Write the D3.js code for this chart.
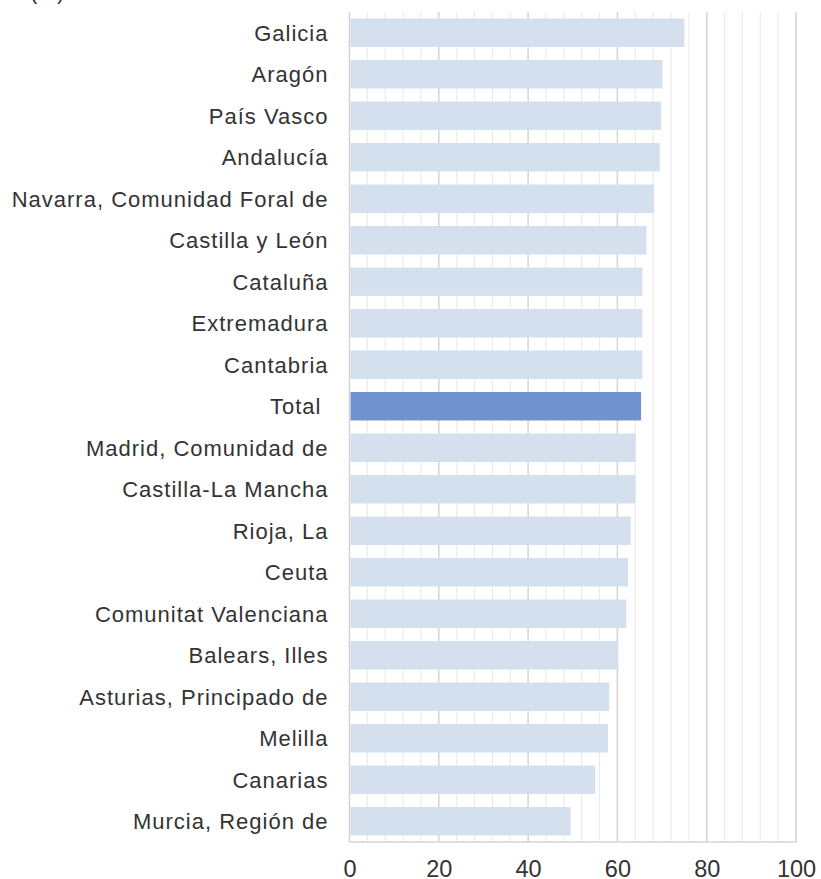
<!DOCTYPE html>
<html>
<head>
<meta charset="utf-8">
<script src="https://cdn.jsdelivr.net/npm/d3@7"></script>
<style>
  body { margin: 0; background: #fff; }
  text { font-family: "Liberation Sans", Arial, sans-serif; fill: #333; }
</style>
</head>
<body>
<div id="chart"></div>
<script>
// data
var regions = ["Galicia", "Aragón", "País Vasco", "Andalucía", "Navarra, Comunidad Foral de",
  "Castilla y León", "Cataluña", "Extremadura", "Cantabria", "Total ",
  "Madrid, Comunidad de", "Castilla-La Mancha", "Rioja, La", "Ceuta", "Comunitat Valenciana",
  "Balears, Illes", "Asturias, Principado de", "Melilla", "Canarias", "Murcia, Región de"]
var values = [75.0, 70.1, 69.8, 69.5, 68.2, 66.5, 65.6, 65.6, 65.6, 65.3,
  64.1, 64.0, 63.0, 62.4, 62.0, 60.2, 58.2, 57.9, 55.0, 49.5]
var xTicks = [0, 20, 40, 60, 80, 100]
var unitLabel = "(%)"

var W = 821, H = 879
var margin = { top: 12, right: 25, bottom: 37, left: 349.5 },
    width = W - margin.left - margin.right,
    height = H - margin.top - margin.bottom

var data = regions.map(function (d, i) { return { name: d, value: values[i] } })

var svg = d3.select("#chart")
    .append("svg")
    .attr("width", W)
    .attr("height", H)

// unit label, sits mostly above the top edge like in the original
svg.append("text")
    .attr("x", 30)
    .attr("y", -1)
    .style("font-size", "22px")
    .text(unitLabel)

var g = svg.append("g")
    .attr("transform", "translate(" + margin.left + "," + margin.top + ")")

var x = d3.scaleLinear().domain([0, 100]).range([0, width])
var y = d3.scaleBand()
    .domain(regions)
    .range([0, height])
    .paddingInner(0.315)
    .paddingOuter(0.1575)

// minor gridlines
g.selectAll(".minor")
    .data(d3.range(0, 101, 4).filter(function (v) { return v % 20 !== 0 }))
    .enter().append("line")
    .attr("x1", function (d) { return x(d) })
    .attr("x2", function (d) { return x(d) })
    .attr("y1", 0)
    .attr("y2", height)
    .attr("stroke", "#ebebeb")
    .attr("stroke-width", 1.2)

// major gridlines
g.selectAll(".major")
    .data(xTicks)
    .enter().append("line")
    .attr("x1", function (d) { return x(d) })
    .attr("x2", function (d) { return x(d) })
    .attr("y1", 0)
    .attr("y2", height)
    .attr("stroke", "#d4d4d4")
    .attr("stroke-width", 1.5)

// bottom line
g.append("line")
    .attr("x1", 0).attr("x2", width)
    .attr("y1", height).attr("y2", height)
    .attr("stroke", "#d4d4d4")
    .attr("stroke-width", 1.5)

// bars
g.selectAll(".bar")
    .data(data)
    .enter().append("rect")
    .attr("x", x(0) + 1)
    .attr("y", function (d) { return y(d.name) })
    .attr("width", function (d) { return x(d.value) - x(0) - 1 })
    .attr("height", y.bandwidth())
    .attr("fill", function (d) { return d.name.trim() === "Total" ? "#7093cf" : "#d5e0ef" })

// category labels
g.selectAll(".label")
    .data(data)
    .enter().append("text")
    .attr("x", -21)
    .attr("y", function (d) { return y(d.name) + y.bandwidth() / 2 })
    .attr("dy", "0.36em")
    .attr("text-anchor", "end")
    .style("font-size", "22px")
    .style("letter-spacing", "1px")
    .style("white-space", "pre")
    .text(function (d) { return d.name })

// x axis
var xAxis = d3.axisBottom(x).tickValues(xTicks).tickSize(0).tickPadding(18)
var ax = g.append("g")
    .attr("transform", "translate(0," + height + ")")
    .call(xAxis)
ax.select(".domain").remove()
ax.selectAll("text")
    .style("font-size", "23.5px")
    .style("font-family", "'Liberation Sans', Arial, sans-serif")
    .attr("fill", "#333")
</script>
</body>
</html>
